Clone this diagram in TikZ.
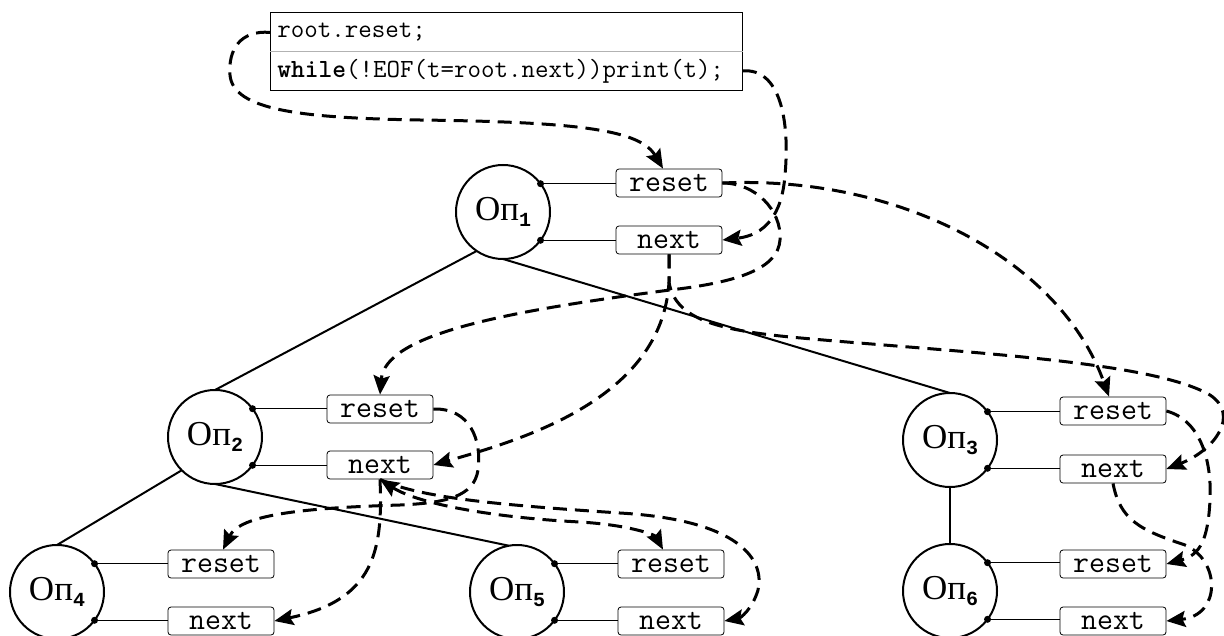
\documentclass[tikz,border=0pt]{standalone}
\usepackage{fontspec}
\setmainfont{Liberation Serif}
\newfontfamily\subfont{Liberation Mono}
\usetikzlibrary{arrows.meta}
\newcommand\OpLabel[1]{Оп\raisebox{-3pt}{\subfont\bfseries\fontsize{10}{10}\selectfont #1}}
\begin{document}
\begin{tikzpicture}[x=0.5pt,y=-0.5pt,
  >={Stealth[length=9.5pt,width=8pt,inset=1.5pt]},
  op/.style={circle, draw, line width=1pt, minimum size=47pt, inner sep=0pt, outer sep=0pt, font=\fontsize{17.5}{17.5}\selectfont},
  port/.style={draw, rounded corners=1.5pt, line width=0.4pt, minimum width=53pt, minimum height=14pt, inner sep=0pt, font=\ttfamily\fontsize{15.5}{15.5}\selectfont},
  codeline/.style={anchor=north west, text width=229pt, inner xsep=3.5pt, inner ysep=0pt, minimum height=19pt, align=left, font=\ttfamily\fontsize{13.1}{13.1}\selectfont},
  tree/.style={line width=1pt},
  wire/.style={line width=0.5pt},
  call/.style={line width=1.5pt, dash pattern=on 7pt off 4pt, ->},
  both/.style={line width=1.5pt, dash pattern=on 7pt off 4pt, <->}
]
\useasboundingbox (0,0) rectangle (1224,636);
\clip (0,0) rectangle (1224,636);

% code box
\node[codeline] (row1) at (270,13) {root.reset;};
\node[codeline] (row2) at (270,51.5) {\textbf{while}(!EOF(t=root.next))print(t);};
\draw[line width=0.5pt] (row1.north west) rectangle (row2.south east);
\draw[gray!60, line width=0.5pt] (row1.south west) -- (row1.south east);

% operators
\node[op] (op1) at (503,212) {\OpLabel{1}};
\node[op] (op2) at (215,437) {\OpLabel{2}};
\node[op] (op3) at (950,440) {\OpLabel{3}};
\node[op] (op4) at (57,592) {\OpLabel{4}};
\node[op] (op5) at (517,592) {\OpLabel{5}};
\node[op] (op6) at (950,591) {\OpLabel{6}};

% ports
\node[port] (r1) at (669,183) {reset};
\node[port] (n1) at (669,240) {next};
\node[port] (r2) at (380,409) {reset};
\node[port] (n2) at (380,465) {next};
\node[port] (r3) at (1113,411) {reset};
\node[port] (n3) at (1113,469) {next};
\node[port] (r4) at (221,564) {reset};
\node[port] (n4) at (221,621) {next};
\node[port] (r5) at (671,564) {reset};
\node[port] (n5) at (671,621) {next};
\node[port] (r6) at (1113,564) {reset};
\node[port] (n6) at (1113,621) {next};

% wires and dots
\foreach \o/\r/\n in {op1/r1/n1, op2/r2/n2, op3/r3/n3, op4/r4/n4, op5/r5/n5, op6/r6/n6}{
  \draw[wire] (\o.37) -- (\r.west |- \o.37);
  \draw[wire] (\o.-37) -- (\n.west |- \o.-37);
  \fill (\o.37) circle (1.75pt);
  \fill (\o.-37) circle (1.75pt);
}

% tree
\draw[tree] (op1.236) -- (op2.north);
\draw[tree] (op1.south) -- (op3.north);
\draw[tree] (op2.225) -- (op4.north);
\draw[tree] (op2.south) -- (op5.100);
\draw[tree] (op3.south) -- (op6.north);

% calls
\draw[call] (row1.west) .. controls (240,30) and (228,50) .. (230,75) .. controls (233,110) and (300,118) .. (420,120) .. controls (580,122) and (640,130) .. ([xshift=-3pt]r1.north);
\draw[call] (row2.east) .. controls (780,68) and (790,120) .. (785,175) .. controls (782,215) and (765,235) .. (n1.east);
\draw[call] (r1.east) .. controls (755,183) and (782,210) .. (780,240) .. controls (778,268) and (740,282) .. (670,290) .. controls (500,312) and (385,335) .. (r2.north);
\draw[call] (r1.east) .. controls (900,175) and (1060,260) .. ([xshift=-2pt]r3.north);
\draw[call] (n1.south) -- (669,282) .. controls (662,400) and (520,440) .. (n2.east);
\draw[call] (n1.south) -- (669,282) .. controls (675,320) and (720,330) .. (790,337) .. controls (950,352) and (1150,360) .. (1210,395) .. controls (1240,415) and (1215,450) .. (n3.east);
\draw[call] (r2.east) .. controls (470,408) and (482,440) .. (478,470) .. controls (474,497) and (445,503) .. (400,505) .. controls (300,508) and (240,515) .. ([xshift=1pt]r4.north);
\draw[both] (n2.south) .. controls (420,505) and (500,518) .. (580,522) .. controls (630,525) and (655,535) .. ([xshift=-4pt]r5.north);
\draw[call] (n2.south) .. controls (420,498) and (500,505) .. (620,513) .. controls (740,520) and (765,560) .. (758,590) .. controls (752,610) and (740,618) .. (n5.east);
\draw[call] (n2.south) .. controls (383,550) and (375,600) .. (n4.east);
\draw[call] (r3.east) .. controls (1200,420) and (1212,460) .. (1210,500) .. controls (1208,540) and (1200,555) .. (r6.east);
\draw[call] (n3.south) .. controls (1120,520) and (1140,530) .. (1185,545) .. controls (1220,560) and (1222,615) .. (n6.east);
\end{tikzpicture}
\end{document}
